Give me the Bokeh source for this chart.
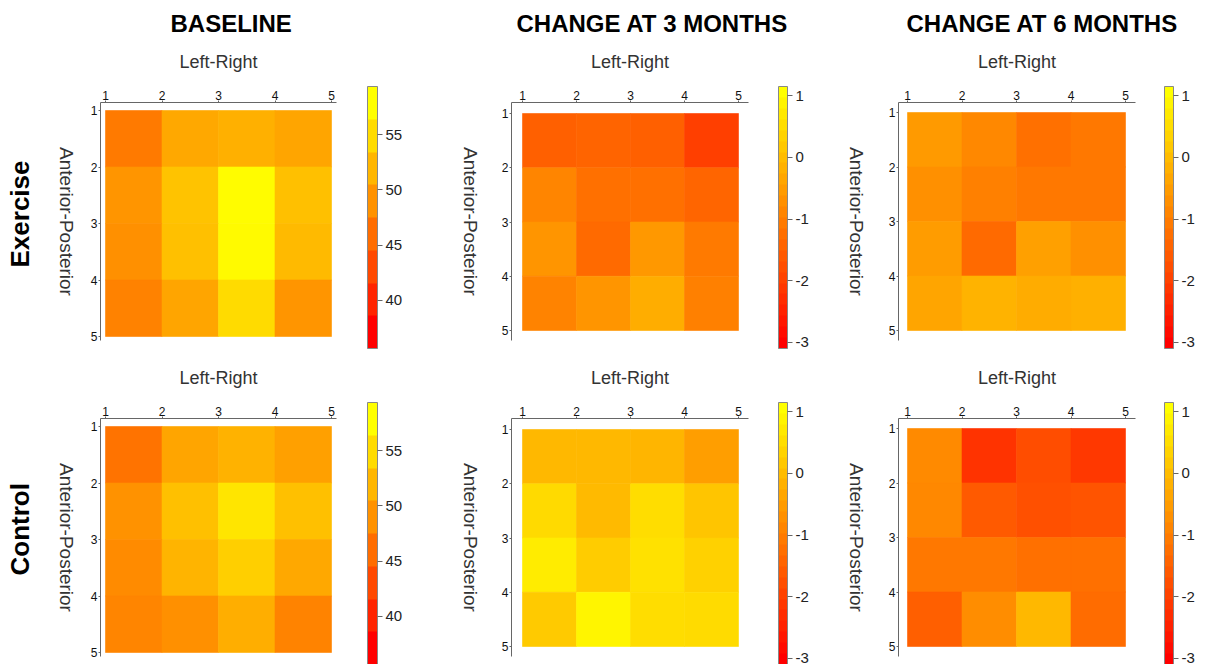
import numpy as np
from bokeh.plotting import figure
from bokeh.models import (Range1d, LinearColorMapper, FixedTicker, ColumnDataSource,
                          ColorBar, LinearAxis, PrintfTickFormatter, Title)
from bokeh.layouts import row, column
from bokeh.embed import file_html
from bokeh.resources import INLINE

FONT = "Liberation Sans"

# ---------------- data ----------------
col_titles = ["BASELINE", "CHANGE AT 3 MONTHS", "CHANGE AT 6 MONTHS"]
row_titles = ["Exercise", "Control"]
grid_ticks = [1, 2, 3, 4, 5]
x_label = "Left-Right"
y_label = "Anterior-Posterior"

base_ticks = [40, 45, 50, 55]
change_ticks = [-3, -2, -1, 0, 1]
base_low, base_high = 35.66, 59.34
change_low, change_high = -3.10, 1.15
base_bands = 8
change_bands = 24

# rows: Anterior-Posterior 1..4 (top to bottom), columns: Left-Right 1..4
exercise_baseline = [
    [47.0, 51.2, 52.0, 51.0],
    [49.5, 53.7, 59.0, 53.5],
    [49.0, 53.5, 58.8, 52.9],
    [47.7, 51.0, 56.0, 49.5],
]
exercise_3m = [
    [-1.50, -1.43, -1.50, -2.05],
    [-0.88, -1.23, -1.23, -1.42],
    [-0.62, -1.33, -0.57, -1.07],
    [-0.92, -0.62, -0.22, -0.97],
]
exercise_6m = [
    [-0.53, -0.83, -1.23, -1.10],
    [-0.70, -0.97, -1.10, -1.10],
    [-0.50, -1.33, -0.43, -0.70],
    [-0.35, -0.12, -0.23, -0.17],
]
control_baseline = [
    [46.3, 51.0, 52.2, 50.5],
    [49.2, 53.5, 56.9, 53.5],
    [48.6, 52.4, 54.9, 51.2],
    [48.0, 49.0, 51.8, 47.8],
]
control_3m = [
    [-0.03, -0.03, -0.08, -0.47],
    [0.53, 0.00, 0.57, 0.18],
    [0.82, 0.30, 0.65, 0.37],
    [0.27, 0.98, 0.57, 0.55],
]
control_6m = [
    [-0.80, -2.25, -1.82, -2.17],
    [-0.83, -1.60, -1.77, -1.70],
    [-1.10, -1.10, -1.23, -1.23],
    [-1.52, -0.75, -0.03, -1.30],
]


def ramp(n):
    return ["#ff%02x00" % int(round(255 * i / (n - 1))) for i in range(n)]


# ---------------- layout geometry (page pixels, page has no margin) ----------------
COLS = [
    dict(col=(0, 440), lab=(0, 80), labframe=(36, 45),
         heat=(80, 440), frame=(100, 336), cells=(105, 331), vcells=(110, 336),
         cbar_x=367, cbar_w=10, title_left=170),
    dict(col=(440, 828), lab=(440, 490), labframe=(444, 449),
         heat=(490, 828), frame=(511, 748), cells=(522, 738), vcells=(113, 330),
         cbar_x=778, cbar_w=9, title_left=516),
    dict(col=(828, 1205), lab=(828, 877), labframe=(831, 835),
         heat=(877, 1205), frame=(898, 1135), cells=(907, 1125), vcells=(112, 330),
         cbar_x=1164, cbar_w=9, title_left=906),
]
STRIP_H = 40
VFRAME = (102, 340)          # frame top / bottom in row 1
ROW_TOP = [STRIP_H, 362]
ROW_H = [362 - STRIP_H, 302]
ROW_SHIFT = [0, 316]
CB_V = (86, 348)             # colour bar top / bottom in row 1
ROWLAB_BOTTOM = [267, 575]   # lower end of the rotated row labels
YLAB_STANDOFF = 10


def no_grid(p):
    p.outline_line_color = None
    p.xgrid.visible = False
    p.ygrid.visible = False
    p.background_fill_color = "white"
    p.border_fill_color = "white"


def style_grid_axis(ax):
    ax.ticker = FixedTicker(ticks=grid_ticks)
    ax.major_label_text_font = FONT
    ax.major_label_text_font_size = "12px"
    ax.major_label_text_color = "#111111"
    ax.major_label_standoff = 1
    ax.axis_line_color = "#666666"
    ax.major_tick_line_color = "#666666"
    ax.major_tick_out = 2
    ax.major_tick_in = 0
    ax.minor_tick_out = 0
    ax.minor_tick_in = 0
    ax.axis_label_text_font = FONT
    ax.axis_label_text_font_size = "18px"
    ax.axis_label_text_font_style = "normal"
    ax.axis_label_text_color = "#333333"


def title_strip(c):
    g = COLS[c]
    x0, x1 = g["col"]
    p = figure(width=x1 - x0, height=STRIP_H, x_range=Range1d(0, 1), y_range=Range1d(0, 1),
               x_axis_location=None, y_axis_location=None,
               output_backend="svg", toolbar_location=None, tools="", title=None,
               min_border_left=0, min_border_right=0, min_border_top=STRIP_H - 2, min_border_bottom=0)
    no_grid(p)
    p.add_layout(Title(text=col_titles[c], align="left", offset=g["title_left"] - x0, standoff=4,
                       text_font=FONT, text_font_size="24px", text_font_style="bold",
                       text_color="black"), "above")
    return p


def label_fig(c, r):
    """Narrow figure holding the rotated y label (and the row label in column 1)."""
    g = COLS[c]
    x0, x1 = g["lab"]
    f0, f1 = g["labframe"]
    ty, by = VFRAME
    top, h, sh = ROW_TOP[r], ROW_H[r], ROW_SHIFT[r]
    p = figure(width=x1 - x0, height=h, x_range=Range1d(0, 1), y_range=Range1d(0, 1),
               x_axis_location=None, y_axis_location=None,
               output_backend="svg", toolbar_location=None, tools="", title=None,
               min_border_left=f0 - x0, min_border_right=x1 - f1,
               min_border_top=ty + sh - top, min_border_bottom=top + h - (by + sh))
    no_grid(p)
    ax = LinearAxis(ticker=FixedTicker(ticks=[]))
    ax.axis_line_color = None
    ax.major_tick_out = 0
    ax.major_tick_in = 0
    ax.minor_tick_out = 0
    ax.minor_tick_in = 0
    ax.axis_label = y_label
    ax.axis_label_standoff = YLAB_STANDOFF
    ax.axis_label_text_font = FONT
    ax.axis_label_text_font_size = "19px"
    ax.axis_label_text_font_style = "normal"
    ax.axis_label_text_color = "#333333"
    p.add_layout(ax, "right")
    if c == 0:
        p.add_layout(Title(text=row_titles[r], align="left",
                           offset=(by + sh) - ROWLAB_BOTTOM[r], standoff=4,
                           text_font=FONT, text_font_size="26px", text_font_style="bold",
                           text_color="black"), "left")
    return p


def heat_fig(vals, low, high, nb, cticks, c, r):
    g = COLS[c]
    fx0, fx1 = g["heat"]
    lx, rx = g["frame"]
    c0, c1 = g["cells"]
    sx = (c1 - c0) / 4.0
    xr = Range1d(1 - (c0 - lx) / sx, 5 + (rx - c1) / sx)
    ty, by = VFRAME
    t0, t1 = g["vcells"]
    sy = (t1 - t0) / 4.0
    yr = Range1d(5 + (by - t1) / sy, 1 - (t0 - ty) / sy)
    top, h, sh = ROW_TOP[r], ROW_H[r], ROW_SHIFT[r]
    p = figure(width=fx1 - fx0, height=h, x_range=xr, y_range=yr,
               x_axis_location="above", y_axis_location="left",
               output_backend="svg", toolbar_location=None, tools="", title=None,
               min_border_left=lx - fx0, min_border_right=fx1 - rx,
               min_border_top=ty + sh - top, min_border_bottom=top + h - (by + sh))
    no_grid(p)

    arr = np.array(vals, dtype=float)
    ri, ci = np.indices(arr.shape)
    src = ColumnDataSource(dict(x=ci.ravel() + 1.5, y=ri.ravel() + 1.5, v=arr.ravel()))
    mapper = LinearColorMapper(palette=ramp(256), low=low, high=high)
    p.rect("x", "y", 1, 1, source=src,
           fill_color={"field": "v", "transform": mapper},
           line_color={"field": "v", "transform": mapper}, line_width=0.6)

    xa = p.xaxis[0]
    style_grid_axis(xa)
    xa.axis_label = x_label
    xa.axis_label_standoff = 16

    style_grid_axis(p.yaxis[0])

    cmap = LinearColorMapper(palette=ramp(nb), low=low, high=high)
    cb = ColorBar(color_mapper=cmap, ticker=FixedTicker(ticks=cticks),
                  formatter=PrintfTickFormatter(format="%d"),
                  location=(g["cbar_x"] - rx, by - CB_V[1]), width=g["cbar_w"],
                  height=CB_V[1] - CB_V[0], padding=0, margin=0, orientation="vertical",
                  major_tick_in=0, major_tick_out=5, major_tick_line_color="#666666",
                  minor_tick_in=0, minor_tick_out=0,
                  bar_line_color="#888888", border_line_color=None, background_fill_alpha=0,
                  label_standoff=3, major_label_text_font=FONT,
                  major_label_text_font_size="15px", major_label_text_color="#222222")
    p.add_layout(cb, "right")
    return p


data = [[exercise_baseline, exercise_3m, exercise_6m],
        [control_baseline, control_3m, control_6m]]

rows = [row(*[title_strip(c) for c in range(3)])]
for r in range(2):
    figs = []
    for c in range(3):
        if c == 0:
            lo, hi, nb, tk = base_low, base_high, base_bands, base_ticks
        else:
            lo, hi, nb, tk = change_low, change_high, change_bands, change_ticks
        figs.append(label_fig(c, r))
        figs.append(heat_fig(data[r][c], lo, hi, nb, tk, c, r))
    rows.append(row(*figs))

layout = column(*rows)
open("out.html", "w").write(file_html(layout, INLINE))
